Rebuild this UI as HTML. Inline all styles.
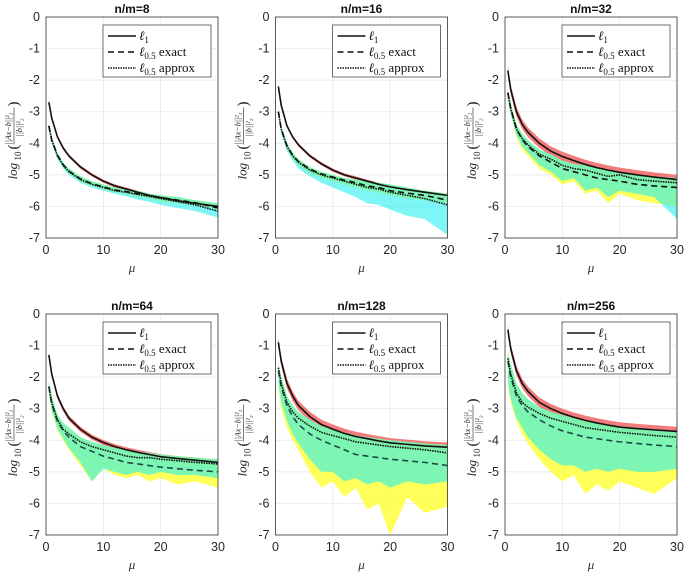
<!DOCTYPE html>
<html><head><meta charset="utf-8"><style>
body{margin:0;background:#fff}
svg{display:block;font-family:"Liberation Sans",sans-serif}
</style></head><body>
<svg id="fig" width="685" height="577" viewBox="0 0 685 577"></svg>
<script>
const mu=[0.5,1,2,3,4,6,8,10,12,14,16,18,20,23,26,30];
const titles=["n/m=8","n/m=16","n/m=32","n/m=64","n/m=128","n/m=256"];
const l1Data=[
[-2.7,-3.2,-3.8,-4.15,-4.4,-4.75,-5.0,-5.2,-5.35,-5.45,-5.55,-5.65,-5.72,-5.82,-5.9,-6.0],
[-2.2,-2.8,-3.45,-3.8,-4.05,-4.4,-4.65,-4.85,-5.0,-5.1,-5.2,-5.3,-5.38,-5.47,-5.55,-5.65],
[-1.7,-2.3,-3.0,-3.4,-3.65,-4.0,-4.25,-4.42,-4.55,-4.67,-4.77,-4.85,-4.92,-5.0,-5.07,-5.15],
[-1.3,-1.9,-2.6,-3.0,-3.3,-3.65,-3.9,-4.07,-4.2,-4.3,-4.38,-4.45,-4.52,-4.58,-4.63,-4.7],
[-0.9,-1.5,-2.2,-2.6,-2.9,-3.25,-3.5,-3.65,-3.78,-3.88,-3.95,-4.02,-4.08,-4.13,-4.18,-4.22],
[-0.5,-1.1,-1.8,-2.2,-2.45,-2.8,-3.0,-3.15,-3.27,-3.37,-3.45,-3.52,-3.58,-3.63,-3.67,-3.72]];
const approxData=[
[-3.45,-3.9,-4.4,-4.7,-4.9,-5.15,-5.3,-5.4,-5.5,-5.55,-5.62,-5.68,-5.75,-5.85,-5.95,-6.15],
[-3.0,-3.55,-4.1,-4.4,-4.6,-4.85,-5.0,-5.1,-5.2,-5.3,-5.4,-5.45,-5.55,-5.65,-5.75,-5.95],
[-2.4,-2.9,-3.55,-3.85,-4.05,-4.35,-4.5,-4.7,-4.8,-4.85,-4.95,-5.05,-5.0,-5.15,-5.2,-5.25],
[-2.3,-2.8,-3.35,-3.65,-3.8,-4.05,-4.2,-4.3,-4.4,-4.5,-4.55,-4.55,-4.6,-4.65,-4.7,-4.75],
[-1.7,-2.2,-2.8,-3.1,-3.3,-3.55,-3.75,-3.85,-3.95,-4.05,-4.1,-4.15,-4.2,-4.25,-4.3,-4.4],
[-1.4,-1.9,-2.5,-2.8,-2.95,-3.15,-3.3,-3.4,-3.5,-3.6,-3.65,-3.7,-3.75,-3.8,-3.85,-3.9]];
const exactData=[
[-3.45,-3.9,-4.38,-4.68,-4.88,-5.13,-5.28,-5.38,-5.48,-5.53,-5.6,-5.65,-5.72,-5.8,-5.88,-6.05],
[-3.0,-3.55,-4.08,-4.38,-4.58,-4.82,-4.97,-5.07,-5.17,-5.25,-5.35,-5.4,-5.5,-5.58,-5.65,-5.8],
[-2.4,-2.9,-3.55,-3.88,-4.1,-4.4,-4.6,-4.8,-4.9,-5.0,-5.1,-5.15,-5.2,-5.3,-5.35,-5.4],
[-2.3,-2.85,-3.4,-3.7,-3.9,-4.2,-4.35,-4.5,-4.6,-4.7,-4.75,-4.8,-4.85,-4.9,-4.95,-5.0],
[-1.8,-2.3,-2.9,-3.25,-3.5,-3.8,-4.0,-4.15,-4.3,-4.45,-4.5,-4.55,-4.6,-4.65,-4.7,-4.8],
[-1.5,-2.0,-2.6,-2.9,-3.1,-3.35,-3.55,-3.7,-3.8,-3.9,-3.95,-4.0,-4.05,-4.1,-4.15,-4.2]];
const bandHiData=[
[-3.35,-3.8,-4.3,-4.6,-4.8,-5.05,-5.2,-5.3,-5.4,-5.45,-5.5,-5.6,-5.65,-5.7,-5.8,-5.9],
[-2.9,-3.45,-4.0,-4.3,-4.5,-4.75,-4.9,-5.0,-5.1,-5.15,-5.2,-5.25,-5.3,-5.4,-5.5,-5.6],
[-2.3,-2.75,-3.4,-3.7,-3.9,-4.2,-4.35,-4.55,-4.65,-4.7,-4.8,-4.85,-4.9,-5.0,-5.05,-5.1],
[-2.1,-2.6,-3.2,-3.45,-3.6,-3.9,-4.05,-4.15,-4.25,-4.3,-4.35,-4.4,-4.45,-4.5,-4.55,-4.6],
[-1.6,-2.0,-2.6,-2.9,-3.1,-3.35,-3.55,-3.65,-3.75,-3.85,-3.9,-3.95,-4.0,-4.05,-4.1,-4.15],
[-1.2,-1.6,-2.2,-2.5,-2.7,-2.95,-3.1,-3.2,-3.3,-3.4,-3.45,-3.5,-3.55,-3.6,-3.65,-3.7]];
const yellowLoData=[
[-3.5,-3.95,-4.45,-4.75,-4.95,-5.2,-5.35,-5.45,-5.55,-5.6,-5.7,-5.75,-5.85,-5.9,-5.95,-6.1],
[-3.1,-3.65,-4.2,-4.5,-4.7,-4.95,-5.1,-5.2,-5.3,-5.4,-5.5,-5.55,-5.65,-5.75,-5.8,-5.9],
[-2.6,-3.1,-3.8,-4.2,-4.4,-4.8,-5.0,-5.3,-5.2,-5.6,-5.5,-5.9,-5.6,-5.8,-5.9,-6.0],
[-2.5,-3.1,-3.7,-4.0,-4.3,-4.8,-5.3,-4.9,-5.1,-5.2,-5.1,-5.3,-5.2,-5.4,-5.3,-5.5],
[-2.3,-3.0,-3.6,-4.0,-4.3,-5.0,-5.5,-5.3,-5.8,-5.5,-6.2,-6.0,-7.0,-5.8,-6.3,-6.1],
[-2.3,-2.8,-3.4,-3.8,-4.1,-4.6,-5.0,-5.3,-5.1,-5.7,-5.4,-5.6,-5.3,-5.5,-5.7,-5.2]];
const cyanLoData=[
[-3.55,-4.0,-4.5,-4.8,-5.0,-5.25,-5.4,-5.5,-5.6,-5.68,-5.78,-5.85,-5.95,-6.05,-6.15,-6.35],
[-3.15,-3.7,-4.25,-4.55,-4.8,-5.05,-5.25,-5.4,-5.55,-5.7,-5.9,-5.95,-6.1,-6.3,-6.4,-6.9],
[-2.6,-3.1,-3.75,-4.1,-4.3,-4.7,-4.9,-5.2,-5.1,-5.5,-5.4,-5.7,-5.5,-5.6,-5.7,-6.4],
[-2.5,-3.05,-3.65,-3.95,-4.25,-4.7,-5.3,-4.9,-5.0,-5.1,-5.0,-5.1,-5.0,-5.1,-5.1,-5.2],
[-2.2,-2.8,-3.4,-3.8,-4.1,-4.6,-5.0,-5.0,-5.3,-5.2,-5.4,-5.3,-5.5,-5.3,-5.4,-5.3],
[-2.2,-2.7,-3.3,-3.6,-3.9,-4.3,-4.6,-4.8,-4.8,-5.0,-4.9,-5.0,-4.9,-5.0,-5.0,-4.9]];
const redWidth=[0.05,0.05,0.15,0.08,0.15,0.15];
const xTicks=[0,10,20,30];
const yTicks=[0,-1,-2,-3,-4,-5,-6,-7];

const NS="http://www.w3.org/2000/svg";
const svg=document.getElementById('fig');
function mk(tag,attrs,parent){const e=document.createElementNS(NS,tag);for(const k in attrs)e.setAttribute(k,attrs[k]);(parent||svg).appendChild(e);return e;}
const lefts=[46,275.5,505],tops=[17,314],W=172,H=221;

for(let p=0;p<6;p++){
  const L=lefts[p%3],T=tops[Math.floor(p/3)];
  const sx=v=>L+v/30*W, sy=v=>T+(-v)/7*H;
  const g=mk('g',{});
  
  
  xTicks.forEach(t=>{const l=mk('line',{x1:sx(t),x2:sx(t),y1:T,y2:T+H,stroke:'#e6e6e6','stroke-width':0.7},g);});
  yTicks.forEach(t=>{const l=mk('line',{x1:L,x2:L+W,y1:sy(t),y2:sy(t),stroke:'#e6e6e6','stroke-width':0.7},g);});
  const band=(hi,lo,fill,name)=>{
    let d='M'+mu.map((m,i)=>sx(m)+','+sy(Math.min(0,hi[i]))).join('L');
    for(let i=mu.length-1;i>=0;i--)d+='L'+sx(mu[i])+','+sy(Math.max(-7,lo[i]));
    const e=mk('path',{d:d+'Z',fill:fill,stroke:'none'},g);
    
  };
  const l1=l1Data[p],rw=redWidth[p];
  band(l1.map(v=>v+rw),l1.map(v=>v-rw),'rgba(240,90,90,0.8)','l1-band');
  band(bandHiData[p],yellowLoData[p],'rgba(255,255,60,0.85)','exact-band');
  band(bandHiData[p],cyanLoData[p],'rgba(40,240,240,0.6)','approx-band');
  const line=(arr,dash,color,name)=>{
    const e=mk('path',{d:'M'+mu.map((m,i)=>sx(m)+','+sy(arr[i])).join('L'),fill:'none',stroke:color,'stroke-width':1.6,'stroke-dasharray':dash},g);
    
  };
  line(exactData[p],'6,4',p<3?'#111':'#1d4a4a','l05-exact-line');
  line(approxData[p],'1.5,1','#111','l05-approx-line');
  line(l1,'none','#111','l1-line');
  const box=mk('rect',{x:L,y:T,width:W,height:H,fill:'none',stroke:'#333','stroke-width':0.8},g);
  
  xTicks.forEach(t=>{const e=mk('text',{x:sx(t),y:T+H+16,'text-anchor':'middle','font-size':12.5,fill:'#262626'},g);e.textContent=t;});
  yTicks.forEach(t=>{const e=mk('text',{x:L-6,y:sy(t)+4,'text-anchor':'end','font-size':12.5,fill:'#262626'},g);e.textContent=t;});
  const xl=mk('text',{x:L+W/2,y:T+H+34,'text-anchor':'middle','font-size':13,'font-style':'italic','font-family':'Liberation Serif,serif',fill:'#333'},g);
  xl.textContent='μ';
  const ti=mk('text',{x:L+W/2,y:T-4,'text-anchor':'middle','font-size':12,'font-weight':'bold',fill:'#111'},g);
  ti.textContent=titles[p];
  const yl=mk('g',{transform:`translate(${L-29},${T+H/2}) rotate(-90)`,'font-family':'Liberation Serif,serif',fill:'#222'},g);
  
  const t1=mk('text',{x:-52,y:0,'font-size':13,'font-style':'italic'},yl);t1.textContent='log';
  const t2=mk('text',{x:-33,y:4,'font-size':9},yl);t2.textContent='10';
  const t3=mk('text',{x:-22,y:1,'font-size':15},yl);t3.textContent='(';
  const t4=mk('text',{x:-17,y:-6,'font-size':8,'font-style':'italic'},yl);t4.textContent='||Ax−b||²₂';
  mk('line',{x1:-17,x2:20,y1:-3,y2:-3,stroke:'#222','stroke-width':0.6},yl);
  const t5=mk('text',{x:-9,y:5,'font-size':8,'font-style':'italic'},yl);t5.textContent='||b||²₂';
  const t6=mk('text',{x:21,y:1,'font-size':15},yl);t6.textContent=')';
  const lx=L+57,ly=T+8;
  const lg=mk('g',{},g);
  mk('rect',{x:lx,y:ly,width:108,height:52,fill:'#fff',stroke:'#333','stroke-width':0.7},lg);
  const ents=[['none','1',''],['6,4','0.5',' exact'],['1.5,1','0.5',' approx']];
  ents.forEach((en,i)=>{
    const yy=ly+11+i*16;
    const eg=mk('g',{},lg);
    mk('line',{x1:lx+5,x2:lx+33,y1:yy,y2:yy,stroke:'#111','stroke-width':1.6,'stroke-dasharray':en[0]},eg);
    const t=mk('text',{x:lx+36,y:yy+4,'font-size':13,'font-family':'Liberation Serif,serif',fill:'#111'},eg);
    const a=mk('tspan',{'font-style':'italic'},t);a.textContent='ℓ';
    const b=mk('tspan',{'font-size':9,dy:3},t);b.textContent=en[1];
    const c=mk('tspan',{dy:-3},t);c.textContent=en[2];
  });
}
</script>
</body></html>
